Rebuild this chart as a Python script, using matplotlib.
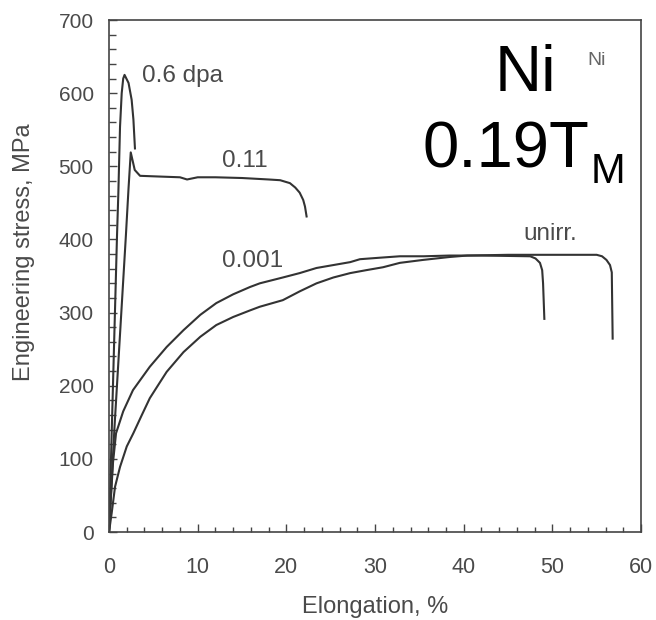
"""
Engineering stress-strain curves for nickel tested at 0.19 T_M,
unirradiated and after irradiation to 0.001, 0.11 and 0.6 dpa.
"""

import matplotlib
matplotlib.use("Agg")
import matplotlib.pyplot as plt
from matplotlib.ticker import MultipleLocator

plt.rcParams["font.family"] = ["Liberation Sans", "DejaVu Sans"]

LINE_COLOR = "#333333"
TEXT_COLOR = "#4a4a4a"

# Elongation (%) / engineering stress (MPa) for each dose
unirr_x = [0, 0.3, 0.68, 1.24, 2.0, 2.74, 3.7, 4.6, 5.6, 6.5, 8.4, 10.3, 12.1,
           14.0, 15.9, 17.0, 19.6, 21.5, 23.4, 25.3, 27.2, 29.0, 30.9, 32.8,
           35.4, 38.4, 40.4, 45.0, 50.0, 55.0, 55.6, 56.1, 56.5, 56.7, 56.8]
unirr_y = [0, 26, 62, 89, 117, 135, 160, 183, 202, 219, 246, 267, 283,
           294, 303, 308, 317, 329, 340, 348, 354, 358, 362, 368,
           372, 376, 378, 379, 379, 379, 377, 372, 365, 355, 263]

dose_001_x = [0, 0.2, 0.45, 0.79, 1.6, 2.7, 4.6, 6.5, 8.4, 10.3, 12.1, 14.0,
              15.9, 17.0, 19.6, 21.5, 23.4, 25.3, 27.2, 28.3, 30.5, 32.8, 35.5,
              38.4, 42.0, 47.5, 48.1, 48.6, 48.85, 48.95, 49.1]
dose_001_y = [0, 45, 95, 135, 165, 194, 226, 253, 276, 297, 313, 325,
              335, 340, 348, 354, 361, 365, 369, 373, 375, 377, 377,
              378, 378, 377, 374, 368, 358, 340, 290]

dose_011_x = [0, 0.6, 1.9, 2.2, 2.45, 2.9, 3.5, 5.7, 8.0, 8.8, 10.0, 12.0, 15.0,
              18.0, 19.3, 20.4, 21.0, 21.5, 21.9, 22.1, 22.3]
dose_011_y = [0, 140, 405, 470, 519, 495, 487, 486, 485, 482, 485, 485, 484,
              482, 481, 477, 471, 464, 454, 445, 430]

dose_06_x = [0, 0.9, 1.05, 1.24, 1.43, 1.6, 1.75, 2.2, 2.55, 2.75, 2.93]
dose_06_y = [0, 405, 463, 554, 600, 620, 625, 614, 591, 564, 523]

curve_labels = ["unirr.", "0.001", "0.11", "0.6 dpa"]
label_x = [46.7, 12.7, 12.7, 3.7]
label_y = [399, 362, 499, 615]


def main():
    fig = plt.figure(figsize=(6.56, 6.2), dpi=100)
    ax = fig.add_axes([0.1662, 0.1419, 0.811, 0.8258])

    for xs, ys in [(unirr_x, unirr_y), (dose_001_x, dose_001_y),
                   (dose_011_x, dose_011_y), (dose_06_x, dose_06_y)]:
        ax.plot(xs, ys, color=LINE_COLOR, linewidth=1.5,
                solid_joinstyle="round", solid_capstyle="butt")

    for text, x, y in zip(curve_labels, label_x, label_y):
        ax.text(x, y, text, fontsize=17.5, color=TEXT_COLOR, va="baseline")

    # material / temperature annotations
    ax.text(54.0, 638, "Ni", fontsize=14, color="#666666", va="baseline")
    ax.text(47.0, 603, "Ni", fontsize=47, color="black", ha="center", va="baseline")
    ax.text(54.2, 499, "0.19T", fontsize=47, color="black", ha="right", va="baseline")
    ax.text(54.3, 477, "M", fontsize=30, color="black", ha="left", va="baseline")

    ax.set_xlim(0, 60)
    ax.set_ylim(0, 700)
    ax.xaxis.set_major_locator(MultipleLocator(10))
    ax.xaxis.set_minor_locator(MultipleLocator(2))
    ax.yaxis.set_major_locator(MultipleLocator(100))
    ax.yaxis.set_minor_locator(MultipleLocator(20))

    ax.tick_params(axis="x", which="both", direction="in", top=False,
                   labelsize=15.5, labelcolor=TEXT_COLOR, color="#444444", pad=18)
    ax.tick_params(axis="y", which="both", direction="in", right=False,
                   labelsize=15, labelcolor=TEXT_COLOR, color="#444444", pad=11)
    ax.tick_params(axis="x", which="major", length=6, width=1.0)
    ax.tick_params(axis="x", which="minor", length=3.5, width=1.0)
    ax.tick_params(axis="y", which="major", length=6, width=1.0)
    ax.tick_params(axis="y", which="minor", length=5, width=1.0)

    for spine in ax.spines.values():
        spine.set_color("#444444")
        spine.set_linewidth(1.2)

    ax.set_xlabel("Elongation, %", fontsize=17, color=TEXT_COLOR)
    ax.set_ylabel("Engineering stress, MPa", fontsize=17, color=TEXT_COLOR)
    ax.xaxis.set_label_coords(0.5, -0.125)
    ax.yaxis.set_label_coords(-0.14, 0.547)

    fig.savefig("out.png", dpi=100)
    plt.close(fig)


if __name__ == "__main__":
    main()
